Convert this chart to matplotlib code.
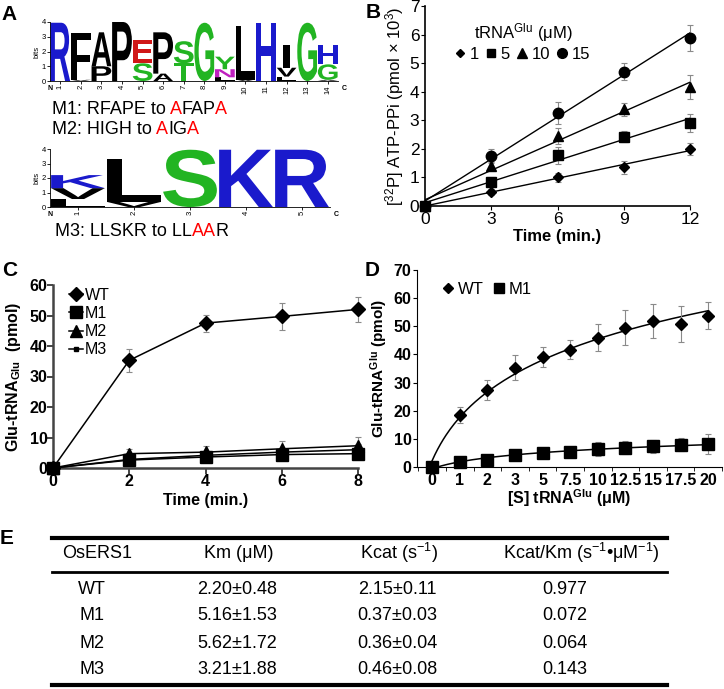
import numpy as np
import matplotlib.pyplot as plt
from matplotlib.textpath import TextPath
from matplotlib.patches import PathPatch
from matplotlib.font_manager import FontProperties
from matplotlib.transforms import Affine2D
from matplotlib.lines import Line2D

plt.rcParams['font.family'] = ['Liberation Sans', 'DejaVu Sans']
plt.rcParams['mathtext.fontset'] = 'custom'
plt.rcParams['mathtext.rm'] = 'Liberation Sans'
plt.rcParams['mathtext.bf'] = 'Liberation Sans:bold'
plt.rcParams['mathtext.it'] = 'Liberation Sans:italic'

# ---- data ----
# sequence logos: (letter, bits) from bottom to top
logo1_stacks = [
    [('R', 3.95)],
    [('V', 0.08), ('F', 3.2)],
    [('P', 1.0), ('A', 2.3)],
    [('P', 4.0)],
    [('S', 1.2), ('E', 1.6)],
    [('A', 0.5), ('P', 2.8)],
    [('T', 1.2), ('S', 1.5)],
    [('G', 3.95)],
    [('L', 0.25), ('N', 0.55), ('Y', 0.85)],
    [('V', 0.1), ('L', 3.6)],
    [('H', 3.95)],
    [('L', 0.3), ('V', 0.6), ('I', 1.55)],
    [('G', 3.95)],
    [('A', 0.08), ('G', 1.05), ('H', 1.3)],
]
logo2_stacks = [
    [('L', 0.55), ('V', 0.75), ('K', 0.9)],
    [('V', 0.35), ('L', 2.95)],
    [('S', 3.95)],
    [('K', 3.95)],
    [('R', 3.95)],
]
m1_text = [('M1: RFAPE to ', 'black'), ('A', 'red'), ('FAP', 'black'), ('A', 'red')]
m2_text = [('M2: HIGH to ', 'black'), ('A', 'red'), ('IG', 'black'), ('A', 'red')]
m3_text = [('M3: LLSKR to LL', 'black'), ('AA', 'red'), ('R', 'black')]

# panel B
b_time = [0, 3, 6, 9, 12]
b_conc = ['1', '5', '10', '15']
b_vals = [[0, 0.5, 1.0, 1.35, 2.0],
          [0, 0.85, 1.78, 2.43, 2.9],
          [0, 1.4, 2.45, 3.38, 4.15],
          [0, 1.75, 3.25, 4.7, 5.88]]
b_err = [[0, 0.1, 0.17, 0.22, 0.2],
         [0, 0.17, 0.3, 0.2, 0.32],
         [0, 0.15, 0.28, 0.22, 0.42],
         [0, 0.25, 0.38, 0.3, 0.45]]

# panel C
c_time = [0, 2, 4, 6, 8]
c_labels = ['WT', 'M1', 'M2', 'M3']
c_vals = [[0, 35.3, 47.5, 49.7, 52.0],
          [0, 2.6, 3.6, 4.4, 4.7],
          [0, 4.7, 5.2, 6.3, 7.3],
          [0, 2.8, 4.15, 5.2, 6.0]]
c_err = [[0, 3.7, 2.8, 4.5, 4.2],
         [0, 0.8, 0.8, 0.9, 1.0],
         [0, 1.5, 2.0, 2.6, 3.0],
         [0, 1.0, 1.2, 1.5, 2.0]]

# panel D
d_conc = ['0', '1', '2', '3', '5', '7.5', '10', '12.5', '15', '17.5', '20']
d_wt = [0, 18.5, 27.3, 35.3, 39.0, 41.7, 46.0, 49.5, 52.0, 50.8, 53.7]
d_wt_err = [0, 2.8, 3.5, 4.5, 3.5, 3.5, 4.8, 6.2, 6.0, 6.3, 4.8]
d_m1 = [0, 1.7, 2.5, 4.3, 4.9, 5.5, 6.4, 6.9, 7.3, 7.9, 8.2]
d_m1_err = [0, 0.8, 1.0, 1.2, 1.3, 1.3, 2.5, 2.2, 2.2, 2.3, 3.5]

# panel E
e_header = ['OsERS1', 'Km (μM)', r'Kcat (s$^{\mathrm{-1}}$)',
            r'Kcat/Km (s$^{\mathrm{-1}}$•μM$^{\mathrm{-1}}$)']
e_rows = ['WT', 'M1', 'M2', 'M3']
e_km = ['2.20±0.48', '5.16±1.53', '5.62±1.72', '3.21±1.88']
e_kcat = ['2.15±0.11', '0.37±0.03', '0.36±0.04', '0.46±0.08']
e_ratio = ['0.977', '0.072', '0.064', '0.143']

W, H = 724, 689
fig = plt.figure(figsize=(W / 100, H / 100), dpi=100)


def box(l, t, r, b):
    return [l / W, 1 - b / H, (r - l) / W, (b - t) / H]


def fx(px):
    return px / W


def fy(py):
    return 1 - py / H


# ---- A: sequence logos ----
logo_font = FontProperties(family='Liberation Sans', weight='bold')
aa_colors = {'R': '#1a1acc', 'H': '#1a1acc', 'K': '#1a1acc',
             'S': '#22b422', 'T': '#22b422', 'G': '#22b422', 'Y': '#22b422',
             'E': '#d01818', 'D': '#d01818', 'N': '#c020c0', 'Q': '#c020c0'}
letter_w = {'I': 0.3}


def draw_letter(ax, ch, x, y0, h):
    w = letter_w.get(ch, 0.96)
    tp = TextPath((0, 0), ch, size=1, prop=logo_font)
    bb = tp.get_extents()
    tr = Affine2D().translate(-bb.x0, -bb.y0).scale(w / bb.width, h / bb.height).translate(x - w / 2, y0)
    ax.add_patch(PathPatch(tr.transform_path(tp), lw=0, fc=aa_colors.get(ch, 'black')))


def draw_logo(rect, stacks, nc_y):
    ax = fig.add_axes(box(*rect))
    for i, stack in enumerate(stacks):
        y0 = 0
        for ch, h in stack:
            draw_letter(ax, ch, i + 1, y0, h)
            y0 += h
    ax.set_xlim(0.5, len(stacks) + 0.5)
    ax.set_ylim(0, 4)
    ax.set_xticks(range(1, len(stacks) + 1))
    ax.set_xticklabels([str(i) for i in range(1, len(stacks) + 1)], rotation=90, fontsize=5)
    ax.set_yticks(range(5))
    ax.tick_params(labelsize=5.5, length=2, width=0.6, pad=1)
    ax.set_ylabel('bits', fontsize=5.5, labelpad=1)
    for s in ['top', 'right']:
        ax.spines[s].set_visible(False)
    ax.spines['left'].set_linewidth(0.6)
    ax.spines['bottom'].set_linewidth(0.6)
    fig.text(fx(rect[0]), fy(nc_y), 'N', fontsize=5, fontweight='bold', ha='center', va='center')
    fig.text(fx(rect[2] + 6), fy(nc_y), 'C', fontsize=5, fontweight='bold', ha='center', va='center')
    return ax


draw_logo((50, 22, 338, 81), logo1_stacks, 89)
draw_logo((50, 149, 330, 207), logo2_stacks, 215)


def text_width(s, size, r):
    t = fig.text(0, 0, s, fontsize=size)
    w = t.get_window_extent(r).width
    t.remove()
    return w


def color_text(x, y, pieces, size):
    # each piece starts where its first letter would sit in the whole string
    r = fig.canvas.get_renderer()
    prefix = ''
    for s, c in pieces:
        off = 0
        if prefix:
            off = text_width(prefix + s[0], size, r) - text_width(s[0], size, r)
        fig.text(fx(x) + off / W, fy(y), s, color=c, fontsize=size, va='center')
        prefix += s


color_text(52, 110, m1_text, 13)
color_text(52, 129, m2_text, 13)
color_text(55, 231, m3_text, 13)

# ---- B ----
axB = fig.add_axes(box(425, 6, 690, 206))
b_markers = ['D', 's', '^', 'o']
b_ms = [5, 6.5, 7, 7.5]
for vals, err, m, ms in zip(b_vals, b_err, b_markers, b_ms):
    axB.errorbar(b_time, vals, yerr=err, fmt=m, ms=ms, color='black', ecolor='#8a8a8a',
                 elinewidth=0.8, capsize=2, capthick=0.8, clip_on=False, zorder=3)
    fit = np.polyfit(b_time, vals, 1)
    xs = np.array([b_time[0], b_time[-1]])
    axB.plot(xs, np.polyval(fit, xs), color='black', lw=1)
axB.set_xlim(0, 12)
axB.set_ylim(0, 7)
axB.set_xticks(b_time)
axB.set_yticks(range(8))
axB.tick_params(labelsize=12.5, length=3, pad=1)
for s in ['top', 'right']:
    axB.spines[s].set_visible(False)
axB.spines['left'].set_linewidth(1.2)
axB.spines['bottom'].set_linewidth(1.2)
axB.set_xlabel('Time (min.)', fontsize=12, fontweight='bold', labelpad=2)
axB.set_ylabel(r'[$^{\mathrm{32}}$P] ATP-PPi (pmol × 10$^{\mathrm{3}}$)', fontsize=12, labelpad=3)
b_handles = [Line2D([], [], marker=m, ls='none', color='black', ms=ms)
             for m, ms in zip(b_markers, [4.5, 6, 6.5, 7])]
axB.legend(b_handles, b_conc, ncol=4, title=r'tRNA$^{\mathrm{Glu}}$ (μM)', loc='upper center',
           bbox_to_anchor=(0.37, 0.96), frameon=False, fontsize=12, title_fontsize=12,
           handlelength=0.5, handletextpad=0.3, columnspacing=0.5, borderaxespad=0, labelspacing=0.2)

# ---- C ----
axC = fig.add_axes(box(53, 285, 358, 468))
c_markers = ['D', 's', '^', 's']
c_ms = [7, 8, 8, 3]
for vals, err, m, ms, lab in zip(c_vals, c_err, c_markers, c_ms, c_labels):
    axC.errorbar(c_time, vals, yerr=err, fmt='-' + m, ms=ms, color='black', ecolor='#8a8a8a',
                 lw=1.1, elinewidth=0.8, capsize=2, capthick=0.8, clip_on=False, label=lab, zorder=3)
axC.set_xlim(0, 8)
axC.set_ylim(0, 60)
axC.set_xticks(c_time)
axC.set_yticks(range(0, 61, 10))
for s in ['top', 'right']:
    axC.spines[s].set_visible(False)
for s in ['left', 'bottom']:
    axC.spines[s].set_linewidth(1.8)
    axC.spines[s].set_color('#444444')
axC.tick_params(labelsize=11.5, length=4, width=1.4, color='#444444', pad=0)
for t in axC.get_xticklabels() + axC.get_yticklabels():
    t.set_fontweight('bold')
axC.set_xlabel('Time (min.)', fontsize=11.5, fontweight='bold', labelpad=3)
axC.set_ylabel(r'Glu-tRNA$_{\mathbf{Glu}}$  (pmol)', fontsize=11.5, fontweight='bold', labelpad=5)
c_handles = [Line2D([], [], marker=m, ms=ms, color='black', lw=1.1) for m, ms in zip(c_markers, c_ms)]
axC.legend(c_handles, c_labels, loc='upper left', bbox_to_anchor=(0.03, 1.02), frameon=False,
           fontsize=11.5, handlelength=0.9, handletextpad=0.1, labelspacing=0.2, borderaxespad=0)

# ---- D ----
axD = fig.add_axes(box(417, 270, 722, 467))
idx = np.arange(len(d_conc))
axD.errorbar(idx, d_wt, yerr=d_wt_err, fmt='D', ms=6, color='black', ecolor='#8a8a8a',
             elinewidth=0.8, capsize=2, capthick=0.8, clip_on=False, zorder=3)
axD.errorbar(idx, d_m1, yerr=d_m1_err, fmt='s', ms=8, color='black', ecolor='#8a8a8a',
             elinewidth=0.8, capsize=2, capthick=0.8, clip_on=False, zorder=3)
xs = np.linspace(idx[0], idx[-1], 200)
for vals in [d_wt, d_m1]:
    a, b = np.polyfit(np.log(idx + 1), vals, 1)
    axD.plot(xs, a * np.log(xs + 1) + b, color='black', lw=1.1)
axD.set_xlim(-0.55, 10.5)
axD.set_ylim(0, 70)
axD.set_xticks(idx)
axD.set_xticklabels(d_conc)
axD.set_xticks(np.arange(-0.5, 10.6, 1), minor=True)
axD.set_yticks(range(0, 71, 10))
axD.tick_params(axis='x', which='major', length=0, labelsize=11.5, pad=4)
axD.tick_params(axis='x', which='minor', length=3)
axD.tick_params(axis='y', labelsize=11.5, length=3, pad=1)
for t in axD.get_xticklabels() + axD.get_yticklabels():
    t.set_fontweight('bold')
for s in ['top', 'right']:
    axD.spines[s].set_visible(False)
axD.set_xlabel(r'[S] tRNA$^{\mathbf{Glu}}$ (μM)', fontsize=11.5, fontweight='bold', labelpad=0)
axD.set_ylabel(r'Glu-tRNA$^{\mathbf{Glu}}$ (pmol)', fontsize=11, fontweight='bold', labelpad=3)
d_handles = [Line2D([], [], marker='D', ls='none', color='black', ms=5),
             Line2D([], [], marker='s', ls='none', color='black', ms=7)]
axD.legend(d_handles, ['WT', 'M1'], ncol=2, loc='center', bbox_to_anchor=(0.23, 0.9), frameon=False,
           fontsize=12, handlelength=0.6, handletextpad=0.3, columnspacing=0.6, borderaxespad=0)

# ---- E: table ----
for y, lw in [(538, 3), (572, 2), (685, 3)]:
    fig.add_artist(Line2D([fx(52), fx(667)], [fy(y), fy(y)], lw=lw, color='black'))
head_x = [97, 239, 399, 581]
col_x = [92, 237, 397, 565]
row_y = [589, 616, 643, 670]
for x, s in zip(head_x, e_header):
    fig.text(fx(x), fy(553), s, fontsize=13, ha='center', va='center')
for cx, col in zip(col_x, [e_rows, e_km, e_kcat, e_ratio]):
    for y, s in zip(row_y, col):
        fig.text(fx(cx), fy(y), s, fontsize=13, ha='center', va='center')

# panel letters
for s, x, y in [('A', 9, 14), ('B', 373, 13), ('C', 10, 270), ('D', 372, 270), ('E', 7, 539)]:
    fig.text(fx(x), fy(y), s, fontsize=15, fontweight='bold', ha='center', va='center')

fig.savefig('out.png', dpi=100)
